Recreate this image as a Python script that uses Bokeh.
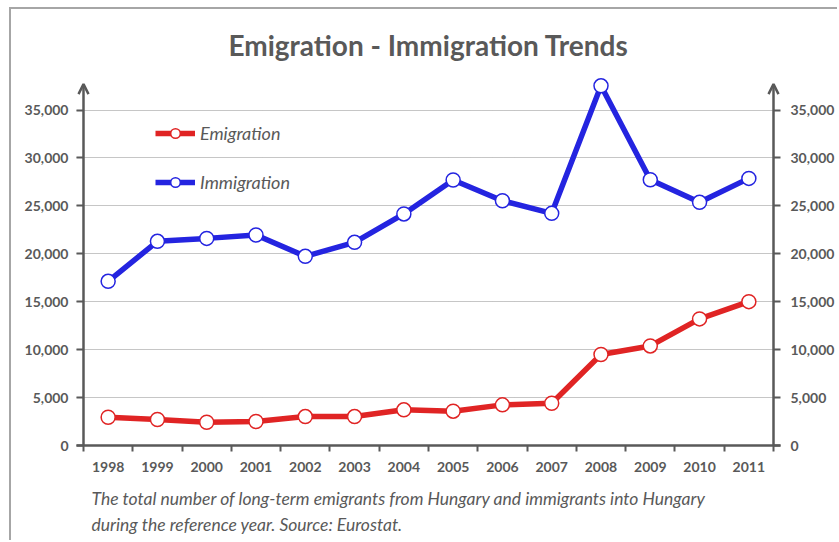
from bokeh.plotting import figure
from bokeh.models import (Range1d, LinearAxis, FixedTicker, NumeralTickFormatter, Legend,
                          LegendItem, Arrow, OpenHead, Title)
from bokeh.embed import file_html
from bokeh.resources import INLINE

years = ["1998", "1999", "2000", "2001", "2002", "2003", "2004", "2005", "2006",
         "2007", "2008", "2009", "2010", "2011"]
emigration = [2950, 2710, 2430, 2500, 3020, 3020, 3720, 3580, 4240, 4410, 9490, 10390, 13210, 15010]
immigration = [17130, 21300, 21610, 21960, 19740, 21200, 24160, 27700, 25540, 24220, 37530, 27730, 25370, 27870]
y_ticks = [0, 5000, 10000, 15000, 20000, 25000, 30000, 35000]
title_text = "Emigration - Immigration Trends"
caption_lines = ["The total number of long-term emigrants from Hungary and immigrants into Hungary",
                 "during the reference year. Source: Eurostat."]

GRAY = "#595959"
RED = "#e02424"
BLUE = "#2424e0"
FONT = "Lato"

xs = list(range(len(years)))
n = len(years)
pad = 7 / 49.29

p = figure(width=828, height=533, output_backend="svg", toolbar_location=None,
           x_range=Range1d(-0.5 - pad, n - 0.5 + pad), y_range=Range1d(0, 38500),
           min_border_left=65, min_border_right=59, min_border_top=67, min_border_bottom=97,
           title=title_text,
           styles={"border-left": "2px solid #a6a6a6", "border-top": "2px solid #a6a6a6",
                   "margin-left": "9px", "margin-top": "7px"})
p.outline_line_color = None
p.background_fill_color = "white"
p.border_fill_color = "white"

p.title.align = "center"
p.title.text_font = FONT
p.title.text_font_style = "bold"
p.title.text_font_size = "28px"
p.title.text_color = GRAY
p.title.standoff = 29

# x axis
xa = p.xaxis[0]
xa.ticker = FixedTicker(ticks=xs, minor_ticks=[i - 0.5 for i in range(n + 1)])
xa.major_label_overrides = {i: y for i, y in zip(xs, years)}
xa.major_tick_out = 0
xa.major_tick_in = 0
xa.minor_tick_out = 6
xa.minor_tick_in = 0
xa.minor_tick_line_width = 2
xa.minor_tick_line_color = GRAY
xa.axis_line_color = GRAY
xa.axis_line_width = 2.5
xa.major_label_standoff = 10
xa.major_label_text_font = FONT
xa.major_label_text_font_style = "bold"
xa.major_label_text_font_size = "14px"
xa.major_label_text_color = GRAY

def style_y(ax, standoff):
    ax.ticker = FixedTicker(ticks=y_ticks)
    ax.formatter = NumeralTickFormatter(format="0,0")
    ax.axis_line_color = None
    ax.major_tick_out = 0
    ax.major_tick_in = 7
    ax.major_tick_line_width = 2
    ax.major_tick_line_color = GRAY
    ax.minor_tick_line_color = None
    ax.major_label_standoff = standoff
    ax.major_label_text_font = FONT
    ax.major_label_text_font_style = "bold"
    ax.major_label_text_font_size = "14px"
    ax.major_label_text_color = GRAY

style_y(p.yaxis[0], 8)
ry = LinearAxis()
style_y(ry, 10)
p.add_layout(ry, "right")

p.xgrid.grid_line_color = None
p.ygrid.ticker = FixedTicker(ticks=y_ticks[1:])
p.ygrid.grid_line_color = "#8c8c8c"
p.ygrid.grid_line_dash = "1 1"
p.ygrid.grid_line_width = 1

# vertical axis lines with arrow heads
for xpos in (-0.5, n - 0.5):
    p.add_layout(Arrow(x_start=xpos, y_start=0, x_end=xpos, y_end=37700,
                       line_color=GRAY, line_width=2.5,
                       end=OpenHead(size=10, line_color=GRAY, line_width=2.5)))

r_em = p.line(xs, emigration, line_color=RED, line_width=5.5)
s_em = p.scatter(xs, emigration, size=14, fill_color="white", line_color=RED, line_width=1.5)
r_im = p.line(xs, immigration, line_color=BLUE, line_width=5.5)
s_im = p.scatter(xs, immigration, size=14, fill_color="white", line_color=BLUE, line_width=1.5)

legend = Legend(items=[LegendItem(label="Emigration", renderers=[r_em, s_em]),
                       LegendItem(label="Immigration", renderers=[r_im, s_im])],
                location=(79, 251), glyph_width=40, glyph_height=24, label_height=24,
                spacing=25, padding=0, margin=0, border_line_color=None,
                background_fill_alpha=0, label_text_font=FONT, label_text_font_style="italic",
                label_text_font_size="18px", label_text_color=GRAY, label_standoff=5)
p.add_layout(legend)

for i, line in enumerate(caption_lines):
    p.add_layout(Title(text=line, align="left", offset=15, standoff=-29 if i else 23,
                       text_font=FONT, text_font_style="italic", text_font_size="17.5px",
                       text_color=GRAY), "below")

open("out.html", "w").write(file_html(p, INLINE))
